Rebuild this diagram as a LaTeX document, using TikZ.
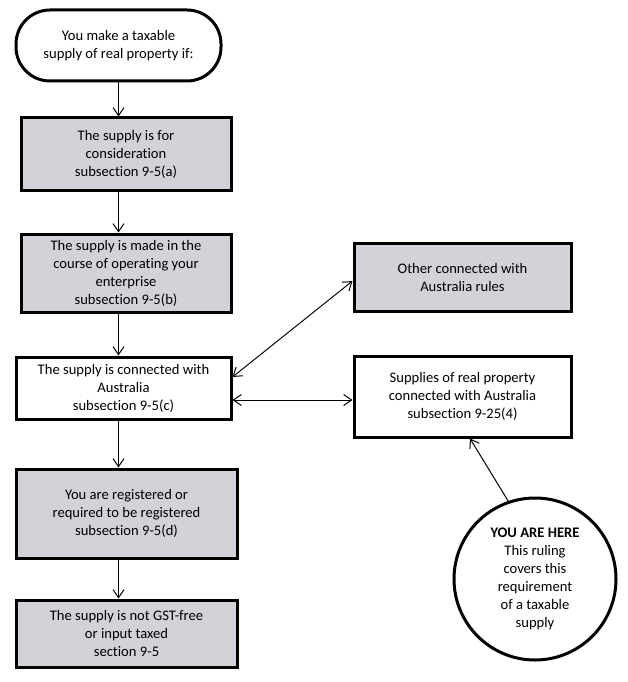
\documentclass[tikz,border=0pt]{standalone}
\usepackage{fontspec}
\setmainfont{Carlito}[Ligatures={NoCommon}]
\usepackage{tikz}
\usetikzlibrary{shapes,arrows.meta}
\definecolor{boxgrey}{RGB}{210,210,217}
\tikzset{box/.style={draw,line width=3pt,inner sep=0pt,align=center},
  greybox/.style={box,fill=boxgrey},
  pill/.style={box,rounded corners=34pt},
  here/.style={box,circle},
  arr/.style={-{Straight Barb[length=8pt,width=11pt]},line width=1pt},
  dblarr/.style={{Straight Barb[length=8pt,width=11pt]}-{Straight Barb[length=8pt,width=11pt]},line width=1pt}}

\begin{document}
\begin{tikzpicture}[x=1pt,y=-1pt,font={\fontsize{14.6}{18}\selectfont}]
\useasboundingbox (0,0) rectangle (627,682);
\node[pill,minimum width=205pt,minimum height=71pt] (top) at (118.5,45.5)
  {You make a taxable\\supply of real property if:};
\node[greybox,minimum width=210pt,minimum height=72pt] (a) at (126,154)
  {The supply is for\\consideration\\subsection 9-5(a)};
\node[greybox,minimum width=210pt,minimum height=78pt] (b) at (126,273)
  {The supply is made in the\\course of operating your\\enterprise\\subsection 9-5(b)};
\node[box,minimum width=215pt,minimum height=62pt] (c) at (123.5,388)
  {The supply is connected with\\Australia\\subsection 9-5(c)};
\node[greybox,minimum width=221pt,minimum height=89pt] (d) at (126.5,513.5)
  {You are registered or\\required to be registered\\subsection 9-5(d)};
\node[greybox,minimum width=221pt,minimum height=67pt] (e) at (126.5,633.5)
  {The supply is not GST-free\\or input taxed\\section 9-5};
\node[greybox,minimum width=217pt,minimum height=68pt] (other) at (462.5,277)
  {Other connected with\\Australia rules};
\node[box,minimum width=217pt,minimum height=81pt] (sup) at (462.5,396.5)
  {Supplies of real property\\connected with Australia\\subsection 9-25(4)};
\node[here,minimum size=162pt] (here) at (535,579)
  {\textbf{YOU ARE HERE}\\This ruling\\covers this\\requirement\\of a taxable\\supply};

\foreach \u/\v in {top/a,a/b,b/c,c/d,d/e}
  \draw[arr] (top.south |- \u.south) -- (top.south |- \v.north);
\draw[dblarr] ([yshift=11pt]c.east) -- ([yshift=-4pt]other.west);
\draw[dblarr] ([yshift=-12pt]c.east) -- ([yshift=-12pt]c.east -| sup.west);
\draw[arr] (here.109) -- ([xshift=7.5pt]sup.south);
\end{tikzpicture}
\end{document}
